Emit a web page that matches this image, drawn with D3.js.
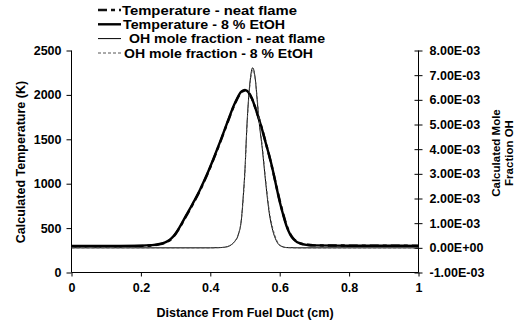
<!DOCTYPE html>
<html>
<head>
<meta charset="utf-8">
<script src="https://cdn.jsdelivr.net/npm/d3@7"></script>
<style>
  html, body { margin: 0; padding: 0; background: #fff; }
  svg { display: block; font-family: "Liberation Sans", Arial, sans-serif; font-weight: bold; }
</style>
</head>
<body>
<svg id="chart" width="525" height="327"></svg>
<script>
// Distance from the fuel duct (cm) for the temperature profiles
const tempDistance = [0, 0.1, 0.2, 0.23, 0.25, 0.27, 0.28, 0.29, 0.30, 0.31, 0.33, 0.35, 0.37, 0.39, 0.41, 0.43, 0.45, 0.47, 0.49, 0.50, 0.51, 0.52, 0.53, 0.54, 0.55, 0.56, 0.57, 0.58, 0.59, 0.60, 0.61, 0.62, 0.63, 0.64, 0.66, 0.68, 0.70, 0.80, 0.90, 1.0];
// Calculated temperature (K)
const tempNeat = [296, 296, 298, 304, 314, 334, 354, 386, 434, 494, 632, 772, 922, 1092, 1282, 1482, 1692, 1892, 2030, 2048, 2025, 1958, 1850, 1732, 1604, 1458, 1312, 1150, 980, 810, 660, 528, 436, 380, 328, 312, 306, 303, 302, 302];
const tempEtOH = [300, 300, 302, 308, 318, 340, 360, 392, 440, 500, 640, 780, 930, 1100, 1290, 1490, 1700, 1900, 2040, 2055, 2030, 1960, 1850, 1730, 1600, 1455, 1315, 1155, 975, 800, 650, 520, 430, 375, 325, 310, 305, 302, 301, 300];

// Distance from the fuel duct (cm) for the OH profiles
const ohDistance = [0, 0.40, 0.43, 0.45, 0.46, 0.47, 0.48, 0.49, 0.495, 0.50, 0.505, 0.51, 0.515, 0.522, 0.53, 0.535, 0.54, 0.55, 0.56, 0.57, 0.58, 0.59, 0.60, 0.62, 0.65, 1.0];
// Calculated OH mole fraction
const ohNeat = [0, 0, 0.00001, 0.00005, 0.00012, 0.00025, 0.0005, 0.0012, 0.0021, 0.0032, 0.0048, 0.0060, 0.0068, 0.0073, 0.0068, 0.0060, 0.0052, 0.0040, 0.0026, 0.0014, 0.0007, 0.0003, 0.0001, 0.00001, 0, 0];
const ohEtOH = [0, 0, 0.00001, 0.00005, 0.00012, 0.00026, 0.00052, 0.0012, 0.0020, 0.0031, 0.0047, 0.0059, 0.0067, 0.0072, 0.0068, 0.0061, 0.0053, 0.0041, 0.0027, 0.0015, 0.0008, 0.00035, 0.00012, 0.00001, 0, 0];

// Axis ticks
const xTicks = [0, 0.2, 0.4, 0.6, 0.8, 1];
const tempTicks = [0, 500, 1000, 1500, 2000, 2500];
const ohTicks = [-0.001, 0, 0.001, 0.002, 0.003, 0.004, 0.005, 0.006, 0.007, 0.008];

const legendLabels = [
  "Temperature - neat flame",
  "Temperature - 8 % EtOH",
  "OH mole fraction - neat flame",
  "OH mole fraction - 8 % EtOH"
];

const svg = d3.select("#chart");
const plotLeft = 71.5, plotRight = 418.5, plotTop = 50.5, plotBottom = 272.5;

const x = d3.scaleLinear().domain([0, 1]).range([plotLeft, plotRight]);
const yT = d3.scaleLinear().domain([0, 2500]).range([plotBottom, plotTop]);
const yOH = d3.scaleLinear().domain([-0.001, 0.008]).range([plotBottom, plotTop]);

function sci(v) {
  const [m, e] = v.toExponential(2).split("e");
  const n = parseInt(e, 10);
  const sign = n < 0 ? "-" : "+";
  return m + "E" + sign + String(Math.abs(n)).padStart(2, "0");
}

// Axes
const gx = svg.append("g").attr("transform", `translate(0,${plotBottom})`)
  .call(d3.axisBottom(x).tickValues(xTicks).tickSize(4).tickPadding(7)
    .tickFormat(d => String(+d.toFixed(1))));
const gl = svg.append("g").attr("transform", `translate(${plotLeft},0)`)
  .call(d3.axisLeft(yT).tickValues(tempTicks).tickSize(5).tickPadding(5).tickFormat(d3.format("d")));
const gr = svg.append("g").attr("transform", `translate(${plotRight},0)`)
  .call(d3.axisRight(yOH).tickValues(ohTicks).tickSize(4).tickPadding(7).tickFormat(sci));
// right-hand ticks cross the axis line
gr.selectAll(".tick line").attr("x1", -4).attr("x2", 4);

[gx, gl, gr].forEach(g => {
  g.select(".domain").attr("stroke", "#000").attr("stroke-width", 1);
  g.selectAll(".tick line").attr("stroke", "#000");
  g.selectAll(".tick text").attr("fill", "#000")
    .style("font-size", "12.5px").style("font-weight", "bold")
    .style("font-family", '"Liberation Sans", Arial, sans-serif');
});
gl.select(".domain").attr("d", `M0,${plotTop}V${plotBottom}`);
gr.select(".domain").attr("d", `M0,${plotTop}V${plotBottom}`);
gx.select(".domain").attr("d", `M${plotLeft},0H${plotRight}`);

// Series lines
const series = [
  { xs: tempDistance, ys: tempNeat, y: yT, width: 2.4, dash: "9,4,4,4", color: "#111" },
  { xs: tempDistance, ys: tempEtOH, y: yT, width: 2.4, dash: null, color: "#000" },
  { xs: ohDistance, ys: ohNeat, y: yOH, width: 1, dash: null, color: "#000" },
  { xs: ohDistance, ys: ohEtOH, y: yOH, width: 1, dash: "3,2", color: "#555" }
];

series.forEach(s => {
  const line = d3.line()
    .x((d, i) => x(s.xs[i]))
    .y(d => s.y(d))
    .curve(d3.curveMonotoneX);
  svg.append("path")
    .datum(s.ys)
    .attr("d", line)
    .attr("fill", "none")
    .attr("stroke", s.color)
    .attr("stroke-width", s.width)
    .attr("stroke-dasharray", s.dash)
    .attr("stroke-linejoin", "round");
});

// Legend: sample line, then the label stretched to its row width
const rowY = [10, 24.3, 38.6, 53];
const textStart = [122, 123, 129, 124];
const textWidth = [175, 162, 196, 189];
legendLabels.forEach((label, i) => {
  const s = series[i];
  svg.append("line")
    .attr("x1", 98).attr("x2", 121)
    .attr("y1", rowY[i]).attr("y2", rowY[i])
    .attr("stroke", s.color)
    .attr("stroke-width", s.width)
    .attr("stroke-dasharray", s.dash);
  svg.append("text")
    .attr("x", textStart[i]).attr("y", rowY[i])
    .attr("dy", "0.36em")
    .attr("textLength", textWidth[i])
    .attr("lengthAdjust", "spacingAndGlyphs")
    .style("font-size", "12.5px")
    .attr("fill", "#000")
    .text(label);
});

// Axis titles
svg.append("text")
  .attr("x", (plotLeft + plotRight) / 2).attr("y", 317)
  .attr("text-anchor", "middle")
  .style("font-size", "12.5px")
  .text("Distance From Fuel Duct (cm)");

svg.append("text")
  .attr("transform", `translate(20,162) rotate(-90)`)
  .attr("text-anchor", "middle")
  .attr("dy", "0.36em")
  .style("font-size", "12.5px")
  .text("Calculated Temperature (K)");

const rt = svg.append("text")
  .attr("transform", `translate(496,153) rotate(-90)`)
  .attr("text-anchor", "middle")
  .style("font-size", "11.5px");
rt.append("tspan").attr("x", 0).attr("dy", "0.36em").text("Calculated Mole");
rt.append("tspan").attr("x", 0).attr("dy", "1.1em").text("Fraction OH");
</script>
</body>
</html>
